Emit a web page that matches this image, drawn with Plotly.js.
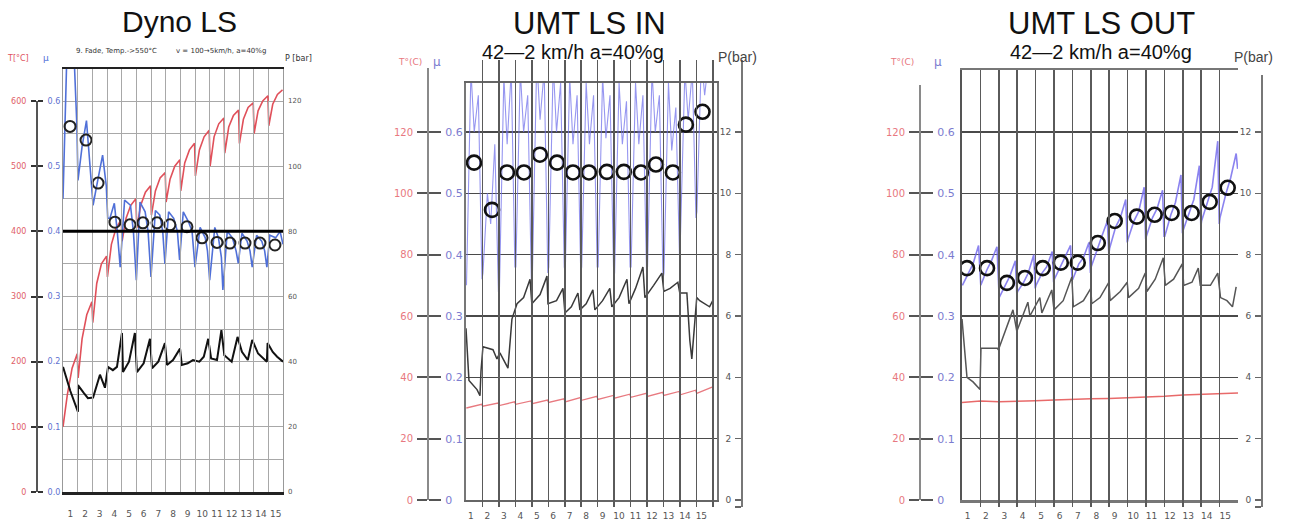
<!DOCTYPE html>
<html>
<head>
<meta charset="utf-8">
<script src="https://cdn.plot.ly/plotly-3.0.1.min.js"></script>
<style>html,body{margin:0;padding:0;background:#fff;}#chart{width:1289px;height:529px;}</style>
</head>
<body>
<div id="chart"></div>
<script>
// ---------------- DATA ----------------
const stopLabels = ['1','2','3','4','5','6','7','8','9','10','11','12','13','14','15'];

// Panel 1: Dyno LS
const dynoTempX = [0.00,0.30,0.62,0.97, 1.03,1.30,1.62,1.97, 2.03,2.30,2.62,2.97, 3.03,3.30,3.62,3.97, 4.03,4.30,4.62,4.97, 5.03,5.30,5.62,5.97, 6.03,6.30,6.62,6.97, 7.03,7.30,7.62,7.97, 8.03,8.30,8.62,8.97, 9.03,9.30,9.62,9.97, 10.03,10.30,10.62,10.97, 11.03,11.30,11.62,11.97, 12.03,12.30,12.62,12.97, 13.03,13.30,13.62,13.97, 14.03,14.30,14.62,14.97];
const dynoTempY = [100,150,190,212, 175,235,272,292, 260,320,350,362, 330,380,405,418, 385,420,440,450, 405,440,460,470, 425,462,482,490, 445,480,500,510, 462,505,525,535, 485,525,545,555, 500,545,565,574, 520,560,578,586, 535,572,590,597, 550,585,600,608, 562,595,610,617];
const dynoMuX = [0.00,0.25,0.70,0.95,1.02, 1.30,1.60,1.85,2.05, 2.30,2.70,2.95,3.05, 3.20,3.50,3.70,3.90, 4.20,4.60,4.80,5.00, 5.25,5.60,5.80,6.00, 6.30,6.60,6.80,6.95, 7.20,7.55,7.80,7.95, 8.20,8.55,8.80,9.00, 9.35,9.70,9.85,10.00, 10.35,10.60,10.80,10.90, 11.20,11.55,11.80,11.95, 12.20,12.55,12.75,12.90, 13.20,13.55,13.75,13.90, 14.10,14.50,14.80,15.00];
const dynoMuY = [0.45,0.66,0.70,0.56,0.478, 0.53,0.57,0.50,0.44, 0.47,0.517,0.47,0.42, 0.42,0.443,0.40,0.345, 0.448,0.44,0.40,0.325, 0.445,0.43,0.40,0.33, 0.432,0.425,0.40,0.35, 0.43,0.42,0.40,0.356, 0.43,0.415,0.40,0.345, 0.406,0.39,0.37,0.325, 0.406,0.39,0.36,0.31, 0.40,0.39,0.37,0.351, 0.397,0.385,0.37,0.345, 0.394,0.385,0.37,0.345, 0.394,0.39,0.40,0.38];
const dynoCircX = [0.48,1.57,2.39,3.54,4.57,5.45,6.41,7.29,8.45,9.48,10.5,11.38,12.41,13.43,14.45];
const dynoCircMu = [0.561,0.540,0.474,0.414,0.410,0.413,0.413,0.410,0.407,0.390,0.383,0.382,0.382,0.382,0.379];
const dynoPX = [0.00,0.50,1.02, 1.02,1.40,1.70,2.05, 2.52,2.86,3.07,3.40,3.68,4.02, 4.09,4.50,4.90, 5.04,5.50,5.93, 6.07,6.50,6.95, 7.09,7.50,7.98, 8.10,8.50,8.86,9.30,9.60,9.90, 10.10,10.50,10.80, 11.00,11.50,11.90, 12.20,12.60,12.90, 13.30,13.90,13.95, 14.30,14.60,14.90,15.00];
const dynoPY = [38.4,31,24.6, 32.8,30.5,28.8,29, 36,32,38.4,37.4,38.4,48.8, 36.8,40,48.8, 36.8,39.5,47, 38,40,45.7, 39,40.5,44, 39,39.5,40.5,40,41.5,47, 41,40.5,49.7, 42,40,47.6, 43,40.5,46.7, 42.5,40,45.7, 43,41.5,40.5,40];
const dynoRefTemp = 400;

// Panel 2: UMT LS IN
const inTempX = [0.02,0.95, 1.02,1.95, 2.02,2.95, 3.02,3.95, 4.02,4.95, 5.02,5.95, 6.02,6.95, 7.02,7.95, 8.02,8.95, 9.02,9.95, 10.02,10.95, 11.02,11.95, 12.02,12.95, 13.02,13.95, 14.02,14.95];
const inTempY = [30.0,31.2, 30.6,31.6, 30.8,32.0, 31.2,32.3, 31.4,32.6, 31.8,33.0, 32.0,33.4, 32.5,33.8, 32.8,34.1, 33.2,34.5, 33.5,34.8, 33.8,35.1, 34.1,35.4, 34.3,35.8, 34.8,36.8];
const inMuX = [0.03,0.30,0.50,0.75,0.97, 1.03,1.30,1.50,1.75,1.97, 2.03,2.30,2.50,2.75,2.97, 3.03,3.30,3.50,3.75,3.97, 4.03,4.30,4.50,4.75,4.97, 5.03,5.30,5.50,5.75,5.97, 6.03,6.30,6.50,6.75,6.97, 7.03,7.30,7.50,7.75,7.97, 8.03,8.30,8.50,8.75,8.97, 9.03,9.30,9.50,9.75,9.97, 10.03,10.30,10.50,10.75,10.97, 11.03,11.30,11.50,11.75,11.97, 12.03,12.30,12.50,12.75,12.97, 13.03,13.30,13.50,13.75,13.97, 14.03,14.30,14.50,14.75,14.97];
const inMuY = [0.35,0.70,0.60,0.66,0.36, 0.37,0.50,0.45,0.58,0.34, 0.34,0.69,0.58,0.70,0.38, 0.38,0.70,0.60,0.66,0.36, 0.36,0.72,0.62,0.70,0.37, 0.38,0.71,0.60,0.68,0.38, 0.37,0.69,0.58,0.66,0.37, 0.38,0.68,0.58,0.66,0.38, 0.38,0.69,0.59,0.66,0.37, 0.37,0.68,0.58,0.65,0.38, 0.38,0.68,0.58,0.66,0.37, 0.38,0.70,0.60,0.66,0.36, 0.37,0.68,0.57,0.64,0.40, 0.43,0.70,0.62,0.70,0.46, 0.47,0.72,0.66,0.72,0.68];
const inCircX = [0.49,1.58,2.49,3.52,4.49,5.53,6.50,7.47,8.56,9.59,10.63,11.54,12.57,13.36,14.37];
const inCircMu = [0.550,0.473,0.534,0.534,0.563,0.550,0.534,0.534,0.535,0.535,0.534,0.547,0.534,0.612,0.633];
const inPX = [0.00,0.18,0.67,0.85,0.91, 1.03,1.64,1.88,2.06, 2.55,2.79,3.10,3.50,3.89, 4.00,4.50,4.92, 4.98,5.50,5.89, 6.01,6.40,6.80, 6.92,7.30,7.71, 7.83,8.30,8.74, 8.86,9.30,9.78, 9.90,10.30,10.75, 10.87,11.40,11.90, 12.02,12.40,12.87, 12.99,13.42,13.60,13.72,13.90,14.02, 14.20,14.50,14.80,14.99];
const inPY = [5.6,3.9,3.6,3.4,4.2, 5.0,4.9,4.6,4.8, 4.3,5.9,6.4,6.6,7.2, 6.4,6.7,7.3, 6.4,6.5,6.9, 6.1,6.3,6.75, 6.2,6.4,6.85, 6.2,6.5,6.9, 6.3,6.6,7.2, 6.4,6.9,7.6, 6.6,7.0,7.4, 6.8,6.9,7.1, 6.75,6.75,5.2,4.6,5.9,6.6, 6.5,6.4,6.3,6.5];

// Panel 3: UMT LS OUT
const outTempX = [0,1,2,3,4,5,6,7,8,9,10,11,12,13,14,15];
const outTempY = [31.8,32.3,32.0,32.1,32.4,32.6,32.9,33.0,33.1,33.3,33.5,33.8,34.2,34.5,34.7,34.9];
const outMuX = [0.02,0.35,0.60,0.90,0.98, 1.02,1.35,1.60,1.90,1.98, 2.02,2.35,2.60,2.90,2.98, 3.02,3.35,3.60,3.90,3.98, 4.02,4.35,4.60,4.90,4.98, 5.02,5.35,5.60,5.90,5.98, 6.02,6.35,6.60,6.90,6.98, 7.02,7.35,7.60,7.90,7.98, 8.02,8.35,8.60,8.90,8.98, 9.02,9.35,9.60,9.90,9.98, 10.02,10.35,10.60,10.90,10.98, 11.02,11.35,11.60,11.90,11.98, 12.02,12.35,12.60,12.90,12.98, 13.02,13.35,13.60,13.90,13.98, 14.02,14.35,14.60,14.90,14.98];
const outMuY = [0.35,0.37,0.385,0.415,0.36, 0.35,0.375,0.39,0.413,0.34, 0.33,0.35,0.365,0.39,0.335, 0.34,0.355,0.37,0.40,0.345, 0.35,0.37,0.38,0.405,0.355, 0.36,0.38,0.395,0.415,0.36, 0.36,0.385,0.395,0.42,0.37, 0.38,0.41,0.43,0.455,0.40, 0.41,0.445,0.46,0.49,0.42, 0.425,0.455,0.47,0.51,0.425, 0.43,0.46,0.475,0.505,0.43, 0.43,0.465,0.485,0.53,0.435, 0.44,0.47,0.49,0.545,0.445, 0.455,0.485,0.51,0.585,0.45, 0.46,0.50,0.525,0.565,0.54];
const outCircX = [0.27,1.36,2.44,3.42,4.39,5.37,6.29,7.38,8.30,9.50,10.47,11.39,12.48,13.46,14.44];
const outCircMu = [0.378,0.378,0.354,0.362,0.378,0.387,0.387,0.419,0.455,0.462,0.465,0.468,0.468,0.486,0.509];
const outPX = [0.00,0.27,0.60,0.98, 1.03,1.92,1.98,2.23,2.60,2.77,2.98, 3.58,3.69, 4.23,4.34, 4.88,5.00, 5.50,5.97,6.05, 6.60,7.00,7.05, 7.50,7.98,8.05, 8.60,8.98,9.05, 9.60,9.96,10.05, 10.50,10.94,11.05, 11.50,11.97,12.05, 12.50,12.84,12.95, 13.50,13.90,14.05, 14.40,14.70,14.90];
const outPY = [5.9,4.0,3.85,3.6, 4.95,4.95,4.9,5.3,5.9,6.2,5.5, 6.45,6.0, 6.6,6.1, 6.85,6.2, 6.5,7.27,6.3, 6.5,6.9,6.4, 6.6,7.1,6.5, 6.8,7.1,6.6, 6.9,7.4,6.8, 7.2,7.9,7.0, 7.2,7.7,7.0, 7.1,7.56,7.0, 7.0,7.4,6.6, 6.5,6.3,6.95];

// Axis tick values / labels
const dynoTempTicks = [0,100,200,300,400,500,600];
const dynoMuTicks = [0,0.1,0.2,0.3,0.4,0.5,0.6];
const dynoMuText = ['0.0','0.1','0.2','0.3','0.4','0.5','0.6'];
const dynoPTicks = [0,20,40,60,80,100,120];
const umtTempTicks = [0,20,40,60,80,100,120];
const umtMuTicks = [0,0.1,0.2,0.3,0.4,0.5,0.6];
const umtMuText = ['0','0.1','0.2','0.3','0.4','0.5','0.6'];
const umtPTicks = [0,2,4,6,8,10,12];
const umtPText = ['0','2','4','6','8','10','12'];

// ---------------- LAYOUT HELPERS ----------------
const W = 1289, H = 529;
const fx = p => p / W;
const fy = p => 1 - p / H;
const tickFont = 'DejaVu Sans, sans-serif';
const titleFont = 'Liberation Sans, Arial, sans-serif';
const seq = (a, b, s) => { const r = []; for (let v = a; v <= b + 1e-9; v += s) r.push(+v.toFixed(4)); return r; };

// pixel geometry per panel
const P1 = {l:63, r:283, t:69, b:492, axisX:37, labTop:101};
const P2 = {l:466, r:717, t:83, b:500, axisX:428, axTop:68, pX:742, pTop:60, pBot:507};
const P3 = {l:962, r:1238, t:70, b:500, axisX:920, axTop:85, pX:1262, pTop:75, pBot:507};

// scales (px per unit)
const p1T = (P1.b - P1.labTop) / 600;      // px per degC
const umtT = (500 - 132) / 120;           // px per degC for panels 2/3

const traces = [];
// Panel 1 traces
traces.push({x: dynoTempX, y: dynoTempY, xaxis:'x', yaxis:'y', mode:'lines', line:{color:'#e0505a', width:1.6}, hoverinfo:'skip'});
traces.push({x: dynoMuX, y: dynoMuY, xaxis:'x', yaxis:'y4', mode:'lines', line:{color:'#5070d8', width:1.6}, hoverinfo:'skip'});
traces.push({x: dynoPX, y: dynoPY, xaxis:'x', yaxis:'y5', mode:'lines', line:{color:'#111', width:2}, hoverinfo:'skip'});
traces.push({x: dynoCircX, y: dynoCircMu, xaxis:'x', yaxis:'y4', mode:'markers', marker:{symbol:'circle-open', size:11, color:'#222', line:{width:2, color:'#222'}}, hoverinfo:'skip'});
// label-only axes dummy traces
['y2','y3'].forEach(a => traces.push({x:[null], y:[null], xaxis:'x', yaxis:a, mode:'lines', hoverinfo:'skip'}));

// Panel 2 traces
traces.push({x: inTempX, y: inTempY, xaxis:'x2', yaxis:'y6', mode:'lines', line:{color:'#e87a80', width:1.3}, hoverinfo:'skip'});
traces.push({x: inMuX, y: inMuY, xaxis:'x2', yaxis:'y9', mode:'lines', line:{color:'rgba(115,115,235,0.75)', width:1.1}, hoverinfo:'skip'});
traces.push({x: inPX, y: inPY, xaxis:'x2', yaxis:'y11', mode:'lines', line:{color:'#3a3a3a', width:1.5}, hoverinfo:'skip'});
traces.push({x: inCircX, y: inCircMu, xaxis:'x2', yaxis:'y9', mode:'markers', marker:{symbol:'circle-open', size:14, color:'#111', line:{width:2.6, color:'#111'}}, hoverinfo:'skip'});
['y7','y8','y10'].forEach(a => traces.push({x:[null], y:[null], xaxis:'x2', yaxis:a, mode:'lines', hoverinfo:'skip'}));

// Panel 3 traces
traces.push({x: outTempX, y: outTempY, xaxis:'x3', yaxis:'y12', mode:'lines', line:{color:'#e86a6a', width:1.5}, hoverinfo:'skip'});
traces.push({x: outMuX, y: outMuY, xaxis:'x3', yaxis:'y15', mode:'lines', line:{color:'rgba(110,100,235,0.8)', width:1.6}, hoverinfo:'skip'});
traces.push({x: outPX, y: outPY, xaxis:'x3', yaxis:'y17', mode:'lines', line:{color:'#555', width:1.5}, hoverinfo:'skip'});
traces.push({x: outCircX, y: outCircMu, xaxis:'x3', yaxis:'y15', mode:'markers', marker:{symbol:'circle-open', size:14, color:'#111', line:{width:2.6, color:'#111'}}, hoverinfo:'skip'});
['y13','y14','y16'].forEach(a => traces.push({x:[null], y:[null], xaxis:'x3', yaxis:a, mode:'lines', hoverinfo:'skip'}));

// ---------------- AXES ----------------
const hidden = {visible:false, showgrid:false, zeroline:false};
const layout = {
  width: W, height: H,
  margin: {l:0, r:0, t:0, b:0},
  paper_bgcolor: '#fff', plot_bgcolor: 'rgba(0,0,0,0)',
  showlegend: false,
  font: {family: tickFont, color:'#444'},

  // ---------- Panel 1 ----------
  xaxis: {domain:[fx(P1.l), fx(P1.r)], range:[0,15], anchor:'y',
          tickmode:'array', tickvals: seq(0.5,14.5,1), ticktext: stopLabels,
          showgrid:false, zeroline:false, ticks:'', ticklabelstandoff:12,
          tickfont:{size:9, color:'#555', family:tickFont},
          minor:{tickmode:'array', tickvals: seq(1,14,1), showgrid:true, gridcolor:'#a8a8a8', gridwidth:1, ticks:''},
          showline:true, mirror:true, linecolor:'#222', linewidth:2.5, fixedrange:true},
  yaxis: {domain:[fy(P1.b), fy(P1.t)], range:[0, (P1.b-P1.t)/p1T], anchor:'x',
          tickmode:'linear', tick0:0, dtick:50, showgrid:true, gridcolor:'#a8a8a8', gridwidth:1,
          showticklabels:false, ticks:'', zeroline:false, showline:true, mirror:true, linecolor:'#999', linewidth:1},
  yaxis2: {domain:[fy(P1.b), fy(P1.labTop)], range:[0,600], anchor:'free', position:fx(P1.axisX), side:'left',
          tickmode:'array', tickvals: dynoTempTicks, showgrid:false, zeroline:false,
          showline:true, linecolor:'#555', linewidth:2, ticks:'outside', ticklen:5, tickwidth:2, tickcolor:'#333',
          ticklabelstandoff:3, tickfont:{size:8, color:'#e06068', family:tickFont}},
  yaxis3: {domain:[fy(P1.b), fy(P1.labTop)], range:[0,0.6], anchor:'free', position:fx(P1.axisX), side:'right',
          tickmode:'array', tickvals: dynoMuTicks, ticktext: dynoMuText, showgrid:false, zeroline:false,
          showline:false, ticks:'outside', ticklen:5, tickwidth:2, tickcolor:'#333',
          ticklabelstandoff:3, tickfont:{size:8, color:'#6070d0', family:tickFont}},
  yaxis4: Object.assign({overlaying:'y', anchor:'x', range:[0, (P1.b-P1.t)/p1T/1000]}, hidden),
  yaxis5: {overlaying:'y', anchor:'x', side:'right', range:[0, (P1.b-P1.t)/p1T/5],
          tickmode:'array', tickvals: dynoPTicks, showgrid:false, zeroline:false, showline:false, ticks:'',
          ticklabelstandoff:4, tickfont:{size:7, color:'#555', family:tickFont}},

  // ---------- Panel 2 ----------
  xaxis2: {domain:[fx(P2.l), fx(P2.r)], range:[0,15.25], anchor:'y6',
          tickmode:'array', tickvals: seq(0.3,14.3,1), ticktext: stopLabels,
          showgrid:false, zeroline:false, ticks:'', ticklabelstandoff:6,
          tickfont:{size:9, color:'#555', family:tickFont},
          minor:{tickmode:'array', tickvals: seq(1,15,1), showgrid:true, gridcolor:'#5a5a5a', gridwidth:1.5, ticks:''},
          showline:true, mirror:true, linecolor:'#666', linewidth:2, fixedrange:true},
  yaxis6: {domain:[fy(P2.b), fy(P2.t)], range:[0, (P2.b-P2.t)/umtT], anchor:'x2',
          tickmode:'linear', tick0:0, dtick:20, showgrid:true, gridcolor:'#4a4a4a', gridwidth:1.5,
          showticklabels:false, ticks:'', zeroline:false, showline:true, mirror:true, linecolor:'#777', linewidth:2},
  yaxis7: {domain:[fy(P2.b), fy(P2.axTop)], range:[0, (P2.b-P2.axTop)/umtT], anchor:'free', position:fx(P2.axisX), side:'left',
          tickmode:'array', tickvals: umtTempTicks, showgrid:false, zeroline:false,
          showline:true, linecolor:'#8a8a8a', linewidth:2, ticks:'outside', ticklen:10, tickwidth:2, tickcolor:'#555',
          ticklabelstandoff:2, tickfont:{size:10, color:'#e87880', family:tickFont}},
  yaxis8: {domain:[fy(P2.b), fy(P2.axTop)], range:[0, (P2.b-P2.axTop)/umtT/200], anchor:'free', position:fx(P2.axisX), side:'right',
          tickmode:'array', tickvals: umtMuTicks, ticktext: umtMuText, showgrid:false, zeroline:false,
          showline:false, ticks:'outside', ticklen:12, tickwidth:2, tickcolor:'#555',
          ticklabelstandoff:2, tickfont:{size:11, color:'#7c7cd0', family:tickFont}},
  yaxis9: Object.assign({overlaying:'y6', anchor:'x2', range:[0, (P2.b-P2.t)/umtT/200]}, hidden),
  yaxis10: {domain:[fy(P2.pBot), fy(P2.pTop)], range:[-(P2.pBot-500)/(umtT*10), (500-P2.pTop)/(umtT*10)], anchor:'free', position:fx(P2.pX), side:'left',
          tickmode:'array', tickvals:[-(P2.pBot-500)/(umtT*10)].concat(umtPTicks), ticktext:[''].concat(umtPText),
          showgrid:false, zeroline:false, showline:true, linecolor:'#777', linewidth:2,
          ticks:'outside', ticklen:6, tickwidth:1.5, tickcolor:'#666',
          ticklabelstandoff:2, tickfont:{size:9, color:'#555', family:tickFont}},
  yaxis11: Object.assign({overlaying:'y6', anchor:'x2', range:[0, (P2.b-P2.t)/umtT/10]}, hidden),

  // ---------- Panel 3 ----------
  xaxis3: {domain:[fx(P3.l), fx(P3.r)], range:[0,15], anchor:'y12',
          tickmode:'array', tickvals: seq(0.3,14.3,1), ticktext: stopLabels,
          showgrid:false, zeroline:false, ticks:'', ticklabelstandoff:6,
          tickfont:{size:9, color:'#555', family:tickFont},
          minor:{tickmode:'array', tickvals: seq(1,14,1), showgrid:true, gridcolor:'#5a5a5a', gridwidth:1.5, ticks:''},
          showline:true, mirror:true, linecolor:'#777', linewidth:2.5, fixedrange:true},
  yaxis12: {domain:[fy(P3.b), fy(P3.t)], range:[0, (P3.b-P3.t)/umtT], anchor:'x3',
          tickmode:'linear', tick0:0, dtick:20, showgrid:true, gridcolor:'#4a4a4a', gridwidth:1.5,
          showticklabels:false, ticks:'', zeroline:false, showline:true, mirror:false, linecolor:'#555', linewidth:2},
  yaxis13: {domain:[fy(P3.b), fy(P3.axTop)], range:[0, (P3.b-P3.axTop)/umtT], anchor:'free', position:fx(P3.axisX), side:'left',
          tickmode:'array', tickvals: umtTempTicks, showgrid:false, zeroline:false,
          showline:true, linecolor:'#8a8a8a', linewidth:2, ticks:'outside', ticklen:10, tickwidth:2, tickcolor:'#555',
          ticklabelstandoff:2, tickfont:{size:10, color:'#e87880', family:tickFont}},
  yaxis14: {domain:[fy(P3.b), fy(P3.axTop)], range:[0, (P3.b-P3.axTop)/umtT/200], anchor:'free', position:fx(P3.axisX), side:'right',
          tickmode:'array', tickvals: umtMuTicks, ticktext: umtMuText, showgrid:false, zeroline:false,
          showline:false, ticks:'outside', ticklen:12, tickwidth:2, tickcolor:'#555',
          ticklabelstandoff:2, tickfont:{size:11, color:'#7c7cd0', family:tickFont}},
  yaxis15: Object.assign({overlaying:'y12', anchor:'x3', range:[0, (P3.b-P3.t)/umtT/200]}, hidden),
  yaxis16: {domain:[fy(P3.pBot), fy(P3.pTop)], range:[-(P3.pBot-500)/(umtT*10), (500-P3.pTop)/(umtT*10)], anchor:'free', position:fx(P3.pX), side:'left',
          tickmode:'array', tickvals:[-(P3.pBot-500)/(umtT*10)].concat(umtPTicks), ticktext:[''].concat(umtPText),
          showgrid:false, zeroline:false, showline:true, linecolor:'#777', linewidth:2,
          ticks:'outside', ticklen:6, tickwidth:1.5, tickcolor:'#666',
          ticklabelstandoff:2, tickfont:{size:9, color:'#555', family:tickFont}},
  yaxis17: Object.assign({overlaying:'y12', anchor:'x3', range:[0, (P3.b-P3.t)/umtT/10]}, hidden),

  shapes: [
    {type:'line', xref:'x domain', x0:0, x1:1, yref:'y', y0:dynoRefTemp, y1:dynoRefTemp, line:{color:'#000', width:3}, layer:'above'}
  ],
  annotations: []
};

function ann(text, px, py, size, color, family, extra) {
  layout.annotations.push(Object.assign({text:text, xref:'paper', yref:'paper', x:fx(px), y:fy(py),
    xanchor:'center', yanchor:'middle', showarrow:false, font:{size:size, color:color, family:family||titleFont}}, extra||{}));
}
// Panel 1 texts
ann('Dyno LS', 179, 22, 30, '#111');
ann('9. Fade, Temp.->550°C', 116, 51, 7, '#333', tickFont);
ann('v = 100→5km/h, a=40%g', 221, 51, 7, '#333', tickFont);
ann('T[°C]', 18, 58, 8, '#e05060', tickFont);
ann('μ', 46, 58, 9, '#5070d8', tickFont);
ann('P [bar]', 298, 58, 8, '#333', tickFont);
// Panel 2 texts
ann('UMT LS IN', 589, 24, 31, '#111');
ann('42—2 km/h a=40%g', 573, 52, 20, '#111');
ann('T°(C)', 410, 62, 9, '#e87880', tickFont);
ann('μ', 437, 62, 12, '#7c7cd0', tickFont);
ann('P(bar)', 737, 57, 14, '#444');
// Panel 3 texts
ann('UMT LS OUT', 1101, 24, 31, '#111');
ann('42—2 km/h a=40%g', 1101, 52, 20, '#111');
ann('T°(C)', 902, 62, 9, '#e87880', tickFont);
ann('μ', 938, 62, 12, '#7c7cd0', tickFont);
ann('P(bar)', 1253, 57, 14, '#444');

Plotly.newPlot('chart', traces, layout, {staticPlot:true, displayModeBar:false});
</script>
</body>
</html>
